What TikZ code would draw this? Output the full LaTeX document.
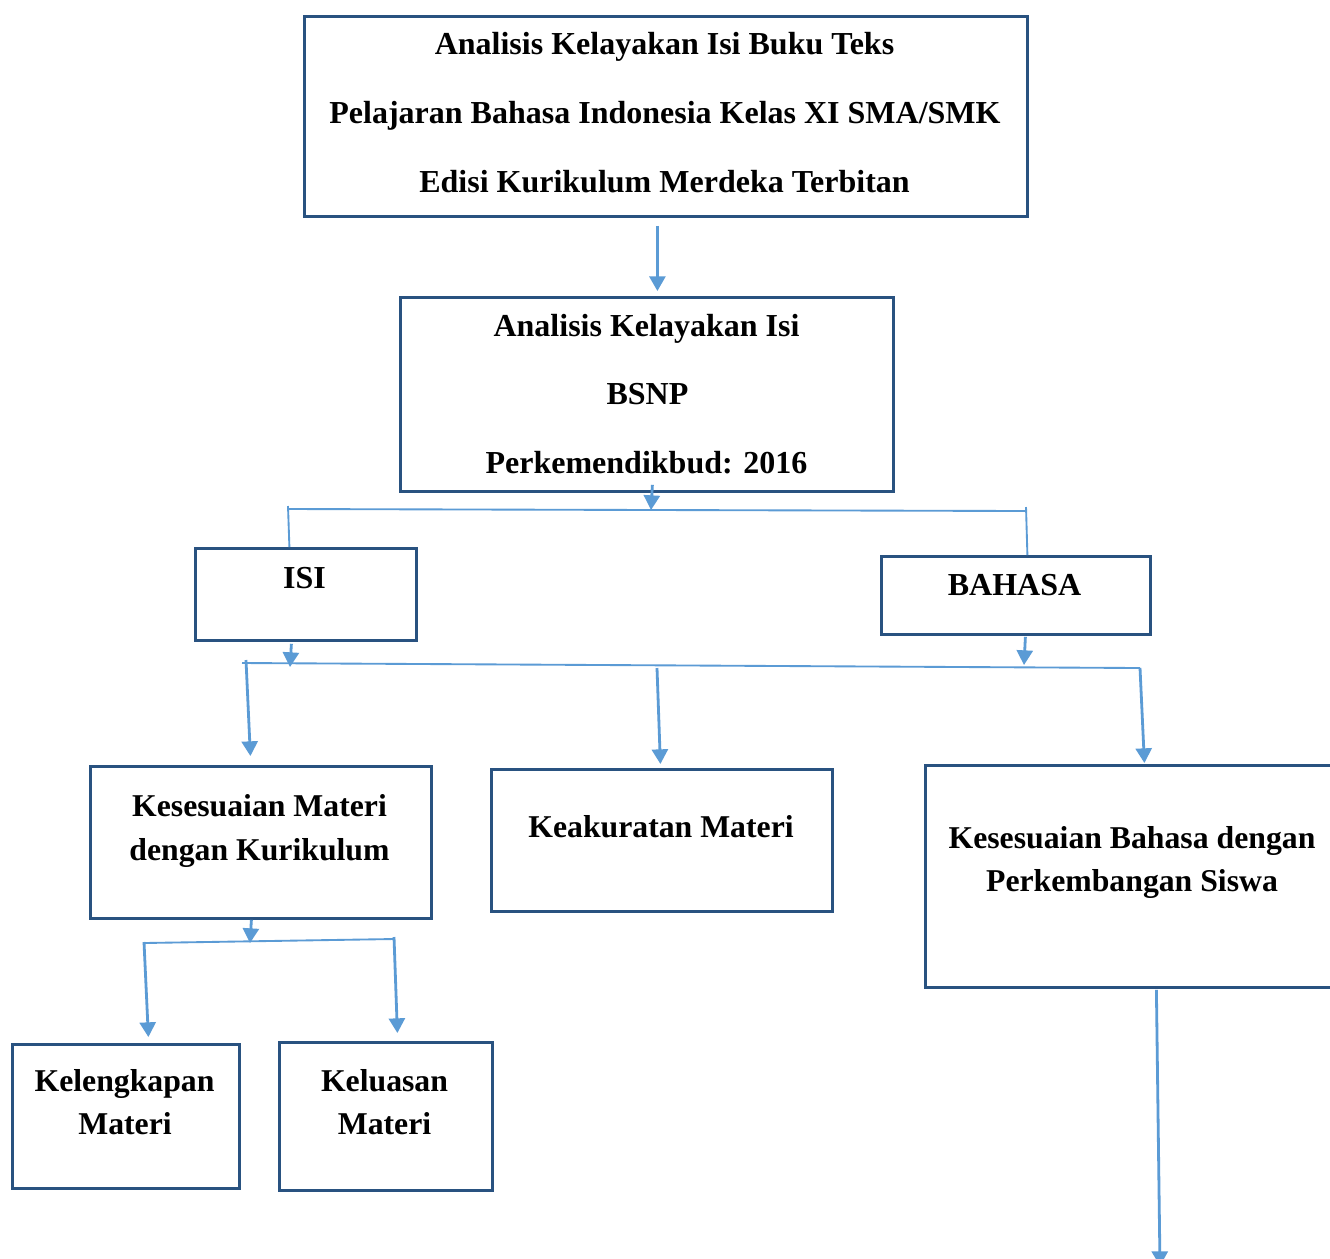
\documentclass[tikz,border=0pt]{standalone}
\usepackage{fontspec}
\setmainfont{Liberation Serif}
\usetikzlibrary{arrows.meta}
\definecolor{boxc}{RGB}{41,82,128}
\definecolor{arrc}{RGB}{91,155,213}
\begin{document}
\begin{tikzpicture}[x=0.75pt,y=-0.75pt,
 box/.style={draw=boxc, line width=2.1pt, inner sep=0pt, anchor=north west},
 txtA/.style={font=\bfseries\fontsize{24}{28}\selectfont, anchor=base, inner sep=0pt},
 txtB/.style={font=\bfseries\fontsize{23.8}{28}\selectfont, anchor=base, inner sep=0pt},
 arr/.style={draw=arrc, line width=2.1pt, -{Triangle[width=12pt,length=11pt]}},
 bus/.style={draw=arrc, line width=1.4pt}]
\clip (0,0) rectangle (1330,1258);
\fill[white] (0,0) rectangle (1330,1258);

% boxes
\node[box, minimum width=723*0.75pt, minimum height=200*0.75pt] (b1) at (303,15) {};
\node[box, minimum width=493*0.75pt, minimum height=194*0.75pt] (b2) at (399,296) {};
\node[box, minimum width=221*0.75pt, minimum height=92*0.75pt] (b3) at (194,547) {};
\node[box, minimum width=269*0.75pt, minimum height=78*0.75pt] (b4) at (880,555) {};
\node[box, minimum width=341*0.75pt, minimum height=152*0.75pt] (b5) at (89,765) {};
\node[box, minimum width=341*0.75pt, minimum height=142*0.75pt] (b6) at (490,768) {};
\node[box, minimum width=420*0.75pt, minimum height=222*0.75pt] (b7) at (924,764) {};
\node[box, minimum width=227*0.75pt, minimum height=144*0.75pt] (b8) at (11,1043) {};
\node[box, minimum width=213*0.75pt, minimum height=148*0.75pt] (b9) at (278,1041) {};

% texts
\node[txtA] (t1a) at (664.5,54.5) {Analisis Kelayakan Isi Buku Teks};
\node[txtA] (t1b) at (665,123.5) {Pelajaran Bahasa Indonesia Kelas XI SMA/SMK};
\node[txtA] (t1c) at (664.5,192) {Edisi Kurikulum Merdeka Terbitan};
\node[txtA] (t2a) at (646.5,336) {Analisis Kelayakan Isi};
\node[txtA] (t2b) at (647.5,404) {BSNP};
\node[txtA] (t2c) at (646.5,473) {Perkemendikbud: 2016};
\node[txtA] (t3) at (304.5,588) {ISI};
\node[txtA] (t4) at (1014.5,595) {BAHASA};
\node[txtB] (t5a) at (259.5,816.5) {Kesesuaian Materi};
\node[txtB] (t5b) at (259.5,860) {dengan Kurikulum};
\node[txtB] (t6) at (661,837) {Keakuratan Materi};
\node[txtB] (t7a) at (1132,848) {Kesesuaian Bahasa dengan};
\node[txtB] (t7b) at (1132,891) {Perkembangan Siswa};
\node[txtB] (t8a) at (124.5,1091) {Kelengkapan};
\node[txtB] (t8b) at (125,1134) {Materi};
\node[txtB] (t9a) at (384.5,1091) {Keluasan};
\node[txtB] (t9b) at (384.5,1134) {Materi};

% bus coordinates
\coordinate (bus1L) at (288,509);
\coordinate (bus1R) at (1026,511);
\coordinate (bus1m) at (651,510);
\coordinate (bus2L) at (242,663);
\coordinate (bus2R) at (1140,668);
\coordinate (bus2a) at (246,660);
\coordinate (bus2b) at (657,668);
\coordinate (bus2i) at (290,667);
\coordinate (bus2j) at (1024,665);
\coordinate (bus3L) at (144,943);
\coordinate (bus3R) at (394,939);
\coordinate (bus3m) at (250,943);
\coordinate (endB) at (1160,1266);

% connectors
\draw[arr] ([shift={(-8.5,8)}]b1.south) -- ([shift={(10.5,-5)}]b2.north);
\draw[bus] (bus1L) -- (bus1R);
\draw[bus] ([shift={(0,-3)}]bus1L) -- ([shift={(-16.5,0)}]b3.north);
\draw[bus] ([shift={(0,-4)}]bus1R) -- ([shift={(11.5,0)}]b4.north);
\draw[arr] ([shift={(5.5,-8)}]b2.south) -- (bus1m);

\draw[bus] (bus2L) -- (bus2R);
\draw[arr] ([shift={(-14.5,2)}]b3.south) -- (bus2i);
\draw[arr] ([shift={(9.5,1)}]b4.south) -- (bus2j);
\draw[arr] (bus2a) -- ([shift={(-10.5,-9)}]b5.north);
\draw[arr] (bus2b) -- ([shift={(-1.5,-4)}]b6.north);
\draw[arr] (bus2R) -- ([shift={(9,-1)}]b7.north);

\draw[arr] ([shift={(-9.5,0)}]b5.south) -- (bus3m);
\draw[bus] (bus3L) -- (bus3R);
\draw[arr] ([shift={(0,-1)}]bus3L) -- ([shift={(22.5,-6)}]b8.north);
\draw[arr] ([shift={(0,-2)}]bus3R) -- ([shift={(11.5,-8)}]b9.north);

\draw[arr] ([shift={(21,1)}]b7.south) -- (endB);
\end{tikzpicture}
\end{document}
